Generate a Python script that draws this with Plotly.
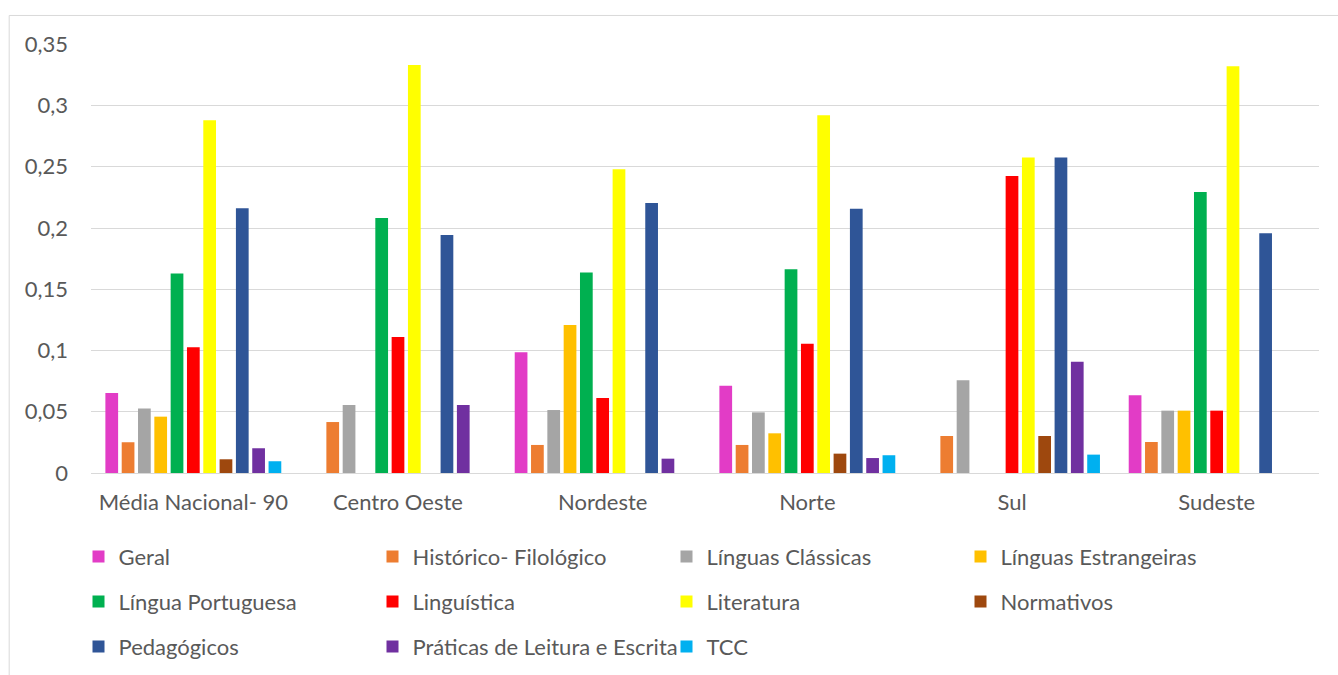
import plotly.graph_objects as go

categories = ["Média Nacional- 90", "Centro Oeste", "Nordeste", "Norte", "Sul", "Sudeste"]

series_names = [
    "Geral", "Histórico- Filológico", "Línguas Clássicas", "Línguas Estrangeiras",
    "Língua Portuguesa", "Linguística", "Literatura", "Normativos",
    "Pedagógicos", "Práticas de Leitura e Escrita", "TCC",
]

geral = [0.0653, 0, 0.0985, 0.0713, 0, 0.0634]
historico = [0.0251, 0.0416, 0.0229, 0.0229, 0.0302, 0.0253]
classicas = [0.0526, 0.0555, 0.0514, 0.0495, 0.0757, 0.0509]
estrangeiras = [0.0460, 0, 0.1208, 0.0324, 0, 0.0509]
portuguesa = [0.1628, 0.2082, 0.1636, 0.1663, 0, 0.2294]
linguistica = [0.1026, 0.1110, 0.0612, 0.1056, 0.2425, 0.0509]
literatura = [0.2880, 0.3330, 0.2480, 0.2920, 0.2575, 0.3320]
normativos = [0.0112, 0, 0, 0.0158, 0.0302, 0]
pedagogicos = [0.2161, 0.1943, 0.2205, 0.2158, 0.2575, 0.1957]
praticas = [0.0202, 0.0555, 0.0117, 0.0122, 0.0909, 0]
tcc = [0.0096, 0, 0, 0.0145, 0.0150, 0]

y_tick_values = [0, 0.05, 0.1, 0.15, 0.2, 0.25, 0.3, 0.35]
y_tick_labels = ["0", "0,05", "0,1", "0,15", "0,2", "0,25", "0,3", "0,35"]

series_values = [geral, historico, classicas, estrangeiras, portuguesa, linguistica,
                 literatura, normativos, pedagogicos, praticas, tcc]
colors = ["#E23CC6", "#ED7D31", "#A5A5A5", "#FFC000", "#00B050", "#FF0000",
          "#FFFF00", "#9E480E", "#2F5597", "#7030A0", "#00B0F0"]

W, H = 1338, 675
L, R, T, B = 91.3, 1319, 44, 472.7
FONT = "Lato"
TXT = "#595959"
FS = 22

fig = go.Figure()
legend_keys = ["legend", "legend2", "legend3"]
for i, (name, vals, col) in enumerate(zip(series_names, series_values, colors)):
    fig.add_trace(go.Bar(
        name=name, x=categories, y=vals,
        marker=dict(color=col, line=dict(width=0)),
        legend=legend_keys[i // 4],
    ))

row_y = [556.7, 601.7, 646.7]
legend_x = 78.5
legends = {}
for k, key in enumerate(legend_keys):
    legends[key] = dict(
        orientation="h",
        xref="container", yref="container",
        x=legend_x / W, y=1 - row_y[k] / H,
        xanchor="left", yanchor="middle",
        entrywidth=249, entrywidthmode="pixels",
        font=dict(family=FONT, size=FS, color=TXT),
        bgcolor="rgba(0,0,0,0)",
        traceorder="normal",
    )

def px2paper_x(px):
    return (px - L) / (R - L)

def px2paper_y(py):
    return (B - py) / (B - T)

fig.update_layout(
    width=W, height=H,
    margin=dict(l=L, r=W - R, t=T, b=H - B, pad=0),
    paper_bgcolor="white", plot_bgcolor="white",
    barmode="group", bargap=0.123, bargroupgap=0.22,
    showlegend=True,
    font=dict(family=FONT, size=FS, color=TXT),
    xaxis=dict(
        showgrid=False, showline=False, zeroline=False,
        tickfont=dict(family=FONT, size=FS, color=TXT),
        ticks="", ticklabelstandoff=14,
    ),
    yaxis=dict(
        range=[0, 0.3502],
        tickvals=y_tick_values, ticktext=y_tick_labels,
        showgrid=True, gridcolor="#D9D9D9", gridwidth=1,
        zeroline=True, zerolinecolor="#D9D9D9", zerolinewidth=1,
        showline=False, ticks="", ticklabelstandoff=22,
        tickfont=dict(family=FONT, size=FS, color=TXT),
    ),
    shapes=[dict(
        type="rect", xref="paper", yref="paper",
        x0=px2paper_x(9.5), x1=px2paper_x(1360),
        y0=px2paper_y(700), y1=px2paper_y(15.5),
        line=dict(color="#D9D9D9", width=1), fillcolor="rgba(0,0,0,0)",
        layer="below",
    )],
    **legends,
)

fig.write_html("out.html")
